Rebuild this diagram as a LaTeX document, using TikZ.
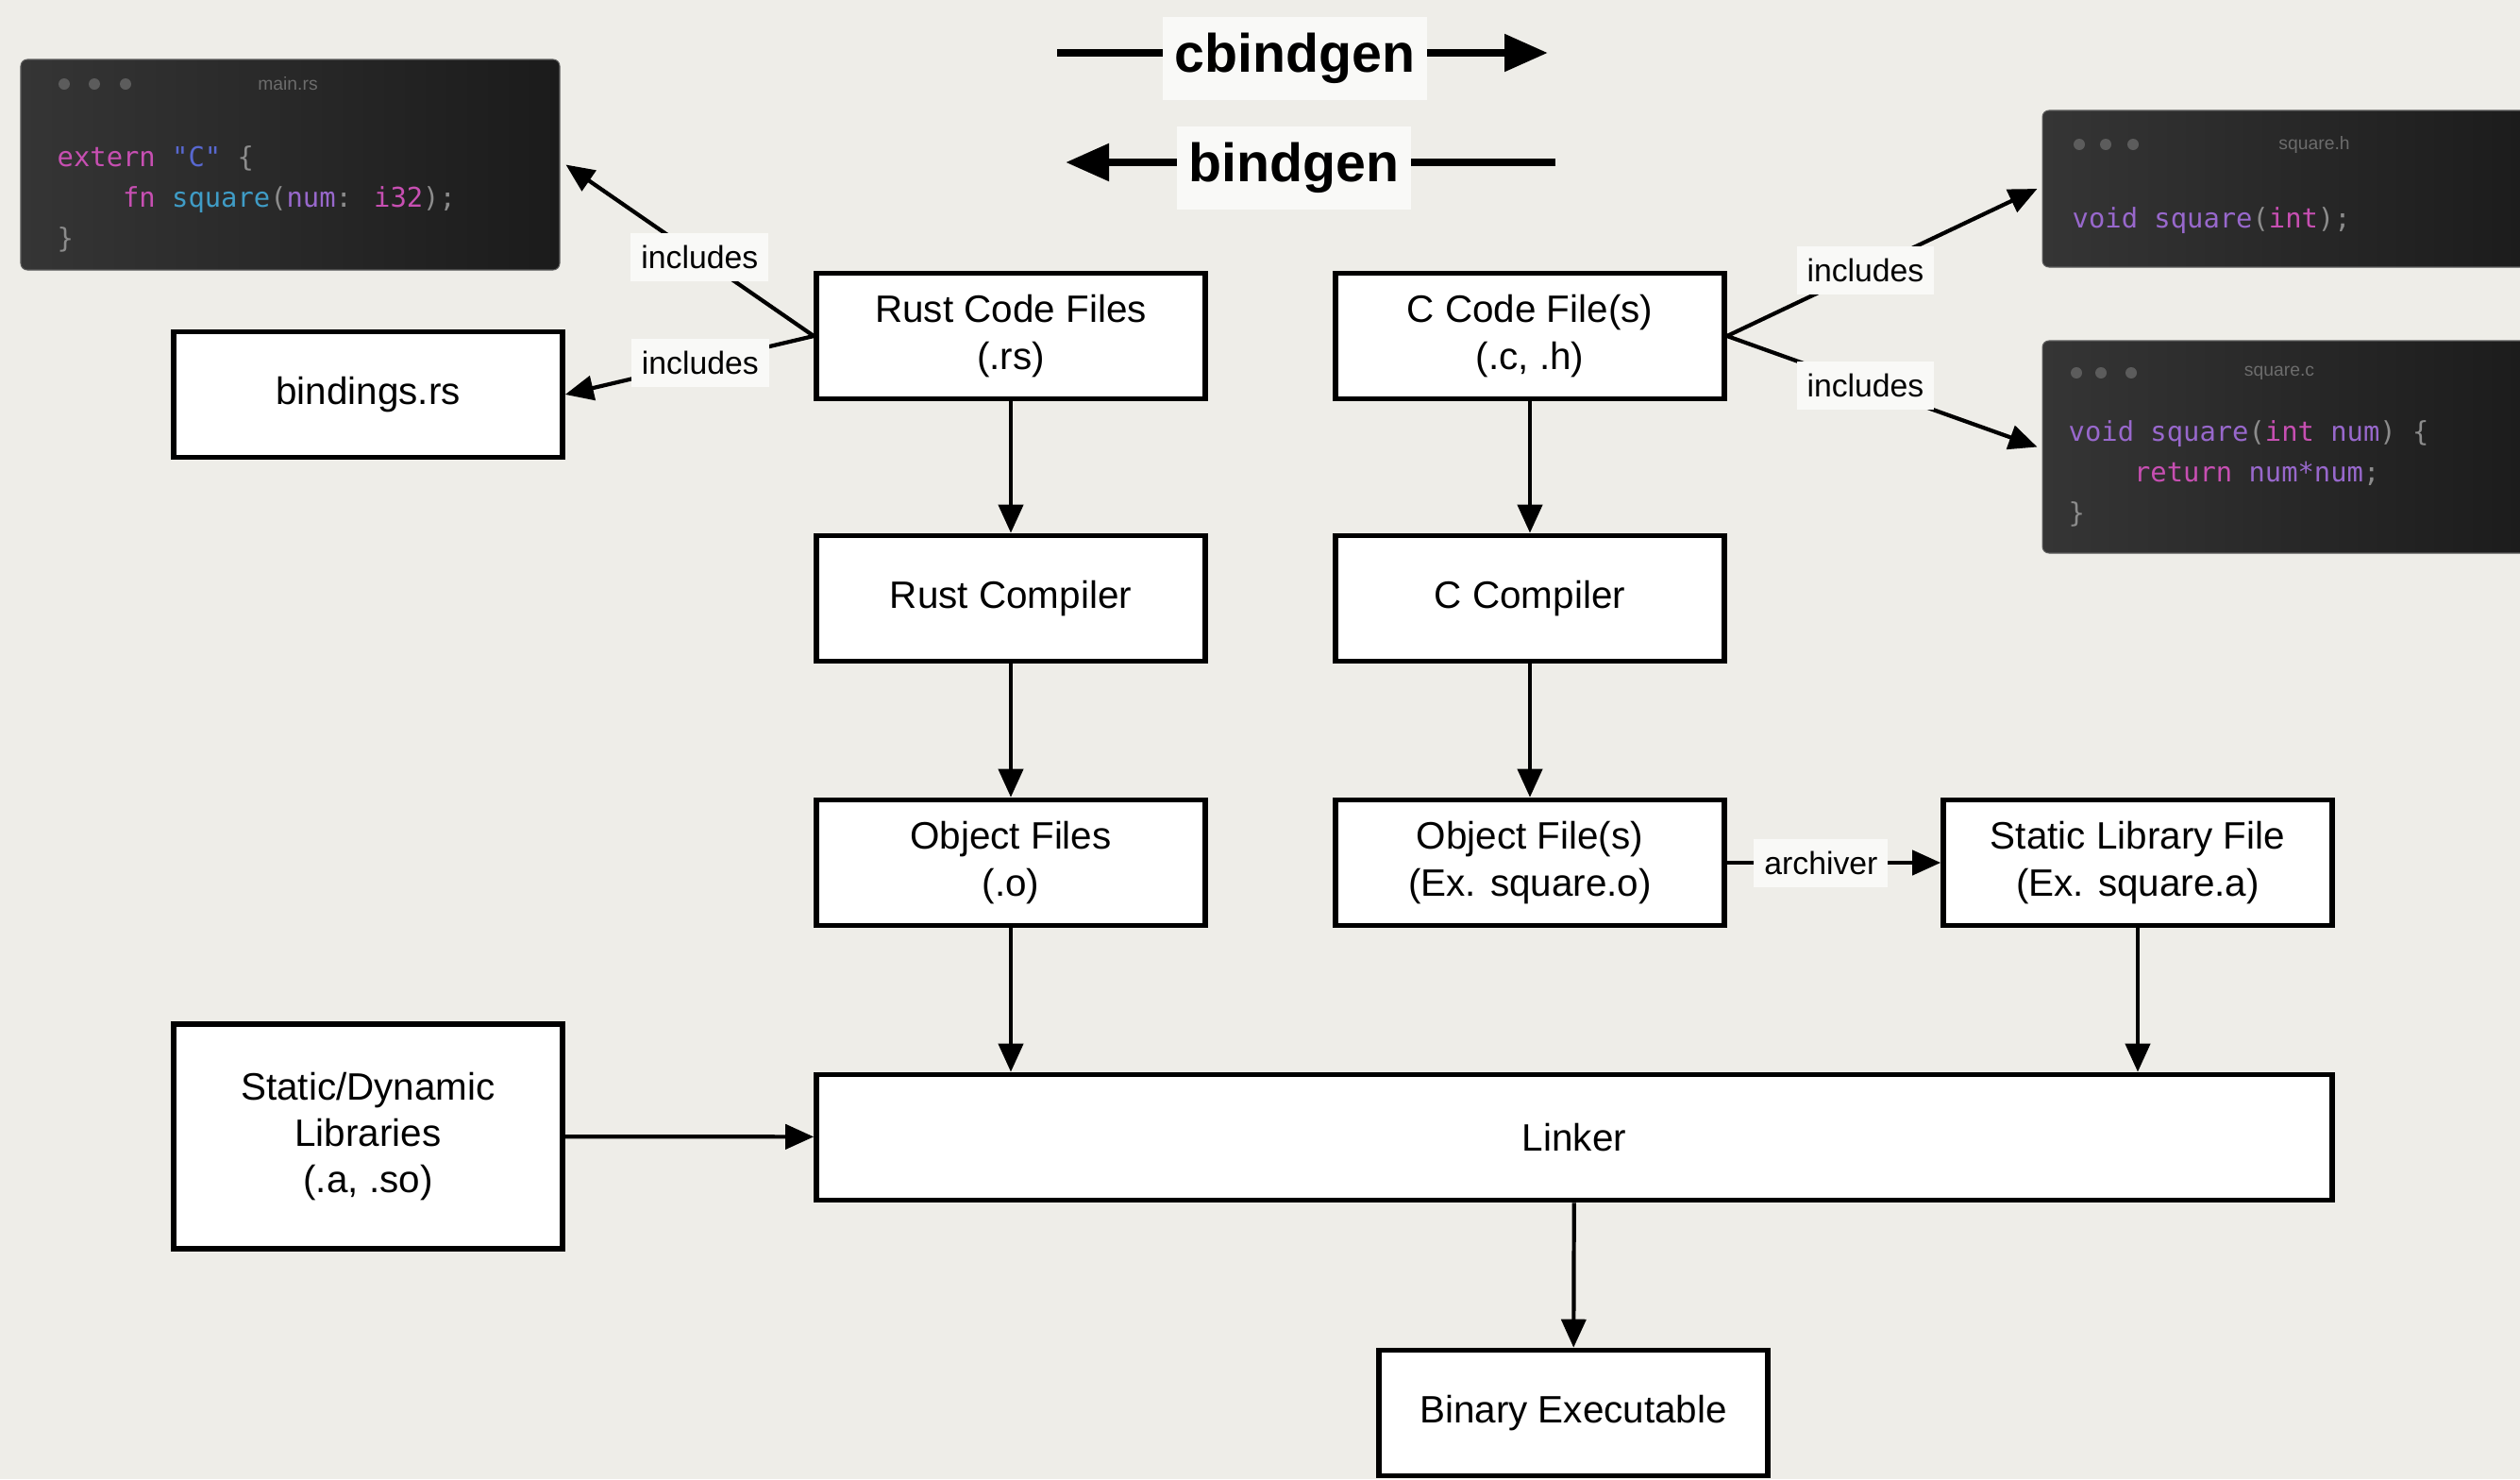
\documentclass[tikz,border=0pt]{standalone}
\usepackage{fontspec}
\setmainfont{Liberation Sans}
\newfontfamily\codefont{DejaVu Sans Mono}
\usetikzlibrary{positioning,arrows.meta}
\definecolor{bgcol}{HTML}{EEEDE8}
\definecolor{lblbg}{HTML}{F9F9F7}
\definecolor{winlight}{HTML}{353535}
\definecolor{windark}{HTML}{1B1B1B}
\definecolor{kwpink}{HTML}{C74FB2}
\definecolor{strblue}{HTML}{5868D0}
\definecolor{fnteal}{HTML}{3F9CC6}
\definecolor{idpurple}{HTML}{9868CC}
\definecolor{punct}{HTML}{8C8C8C}
\definecolor{dotgray}{HTML}{5C5C5C}
\newcommand{\kw}[1]{\textcolor{kwpink}{#1}}
\newcommand{\pu}[1]{\textcolor{punct}{#1}}
\newcommand{\idn}[1]{\textcolor{idpurple}{#1}}

\begin{document}
\begin{tikzpicture}[x=1cm,y=-1cm]
\tikzset{box/.style={draw,line width=1.6pt,fill=white,minimum width=4.12cm,minimum height=1.33cm,align=center,font=\fontsize{11.5}{14}\selectfont}}
\tikzset{lbl/.style={fill=lblbg,inner xsep=.11cm,inner ysep=0pt,minimum height=.51cm,font=\fontsize{9.6}{11}\selectfont}}
\tikzset{biglbl/.style={fill=lblbg,inner xsep=.125cm,inner ysep=0pt,minimum height=.88cm,yshift=-.06cm,font=\fontsize{16.3}{18}\selectfont\bfseries}}
\tikzset{arr/.style={-{Triangle[length=3mm,width=2.6mm]},line width=1.2pt}}
\tikzset{bigarr/.style={-{Triangle[length=4.6mm,width=3.8mm]},line width=2.4pt}}
\tikzset{win/.style={rounded corners=.07cm,left color=winlight,right color=windark,draw=dotgray,line width=.3pt,inner sep=0pt}}
\tikzset{code/.style={anchor=base west,align=left,inner sep=0pt,font=\codefont\fontsize{8.2}{12.1}\selectfont}}
\tikzset{wintitle/.style={text=dotgray!90,inner sep=0pt,font=\fontsize{5.5}{6}\selectfont}}
\tikzset{windot/.style={circle,fill=dotgray,inner sep=0pt,minimum size=.12cm}}
\useasboundingbox[fill=bgcol] (0,0) rectangle (26.70,15.67);

\node[win,minimum width=5.71cm,minimum height=2.23cm] (mainrs) at (3.075,1.745) {};
\node[win,minimum width=5.26cm,minimum height=1.66cm] (squareh) at (24.27,2.00) {};
\node[win,minimum width=5.26cm,minimum height=2.25cm] (squarec) at (24.27,4.735) {};
\foreach \x in {0.68,1.00,1.33} \node[windot] at (\x,0.89) {};
\foreach \x in {22.03,22.31,22.60} \node[windot] at (\x,1.53) {};
\foreach \x in {22.00,22.26,22.58} \node[windot] at (\x,3.95) {};
\node[wintitle] (mainrstitle) at (3.05,0.89) {main.rs};
\node[wintitle] (squarehtitle) at (24.52,1.53) {square.h};
\node[wintitle] (squarectitle) at (24.15,3.95) {square.c};
\node[code] (mainrscode) at (0.60,2.62) {\kw{extern} \textcolor{strblue}{"C"} \pu{\{}\\
\phantom{xxxx}\kw{fn} \textcolor{fnteal}{square}\pu{(}\idn{num}\pu{:} \kw{i32}\pu{);}\\
\pu{\}}};
\node[code] (squarehcode) at (21.95,2.41) {\idn{void square}\pu{(}\kw{int}\pu{);}};
\node[code] (squareccode) at (21.91,5.53) {\idn{void square}\pu{(}\kw{int} \idn{num}\pu{) \{}\\
\phantom{xxxx}\kw{return} \idn{num*num}\pu{;}\\
\pu{\}}};

\node[box] (rustsrc) at (10.71,3.56) {Rust Code Files\\(.rs)};
\node[box] (csrc) at (16.21,3.56) {C Code File(s)\\(.c, .h)};
\node[box] (rustc) at (10.71,6.34) {Rust Compiler};
\node[box] (cc) at (16.21,6.34) {C Compiler};
\node[box] (rusto) at (10.71,9.14) {Object Files\\(.o)};
\node[box] (co) at (16.21,9.14) {Object File(s)\\(Ex. square.o)};
\node[box] (staticlib) at (22.65,9.14) {Static Library File\\(Ex. square.a)};
\node[box,minimum width=16.06cm] (linker) at (16.68,12.05) {Linker};
\node[box,minimum height=2.38cm] (libs) at (3.90,12.04) {Static/Dynamic\\Libraries\\(.a, .so)};
\node[box] (bindings) at (3.90,4.18) {bindings.rs};
\node[box] (binary) at (16.67,14.97) {Binary Executable};

\coordinate (cbstart) at (11.20,0.56);
\coordinate (cbend) at (16.40,0.56);
\coordinate (bgstart) at (16.48,1.72);
\coordinate (bgend) at (11.29,1.72);
\draw[bigarr] (cbstart) -- node[biglbl,pos=.485] (cblbl) {cbindgen} (cbend);
\draw[bigarr] (bgstart) -- node[biglbl,pos=.534] (bglbl) {bindgen} (bgend);

\draw[arr] (rustsrc.west) -- node[lbl,pos=.46] (inc1) {includes} ([xshift=.6mm]mainrs.east);
\draw[arr] (rustsrc.west) -- node[lbl,pos=.457] (inc2) {includes} (bindings.east);
\draw[arr] (csrc.east) -- node[lbl,pos=.446] (inc3) {includes} ([xshift=-.5mm]squareh.west);
\draw[arr] (csrc.east) -- node[lbl,pos=.446] (inc4) {includes} ([xshift=-.5mm]squarec.west);

\draw[arr] (rustsrc) -- (rustc);
\draw[arr] (rustc) -- (rusto);
\draw[arr] (csrc) -- (cc);
\draw[arr] (cc) -- (co);
\draw[arr] (co) -- node[lbl,pos=.44] (arch) {archiver} (staticlib);
\draw[arr] (rusto) -- (rusto |- linker.north);
\draw[arr] (staticlib) -- (staticlib |- linker.north);
\draw[arr] (libs) -- (linker);
\draw[arr] (linker) -- (binary);
\end{tikzpicture}
\end{document}
